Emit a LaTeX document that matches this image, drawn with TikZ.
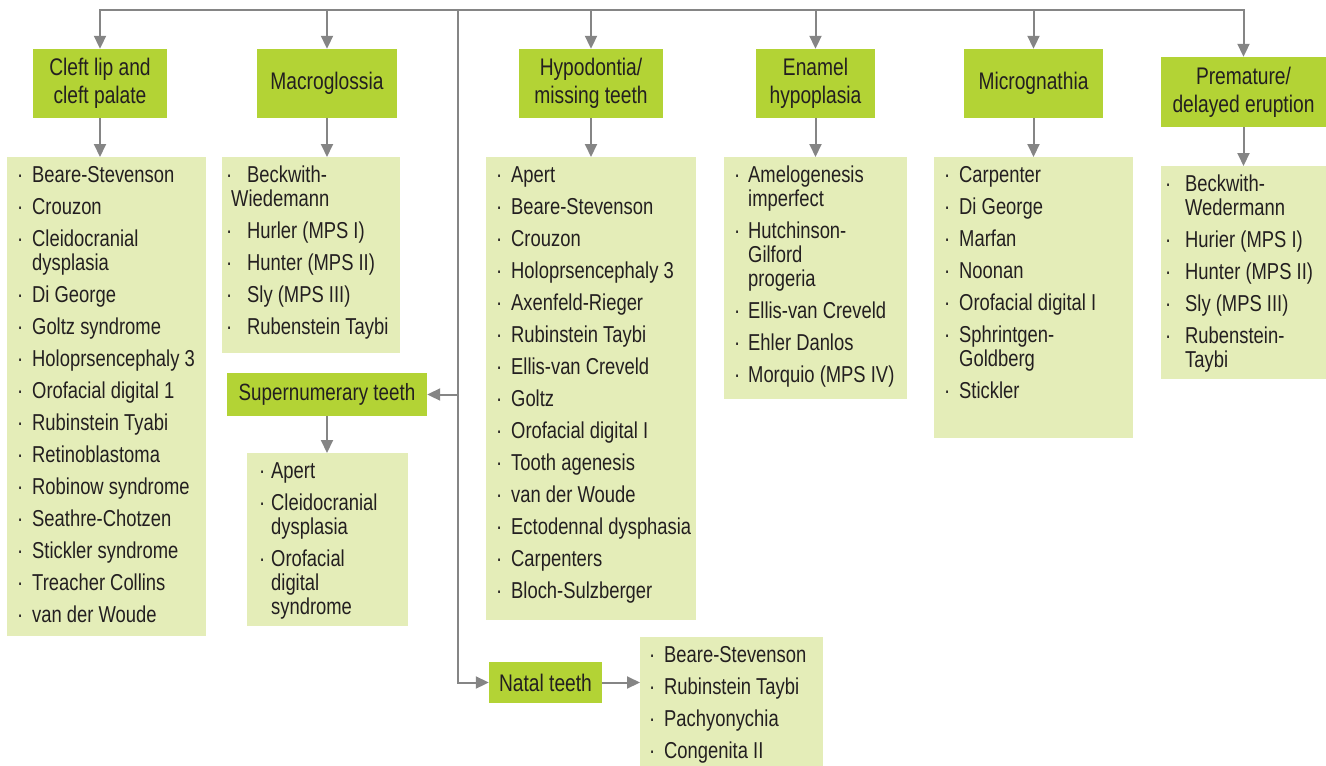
\documentclass[tikz,border=0pt]{standalone}
\usepackage{fontspec}
\setmainfont{Liberation Sans}[FakeStretch=0.8]
\usetikzlibrary{arrows.meta}
\definecolor{hdr}{HTML}{B3D335}
\definecolor{lstc}{HTML}{E4EDB8}
\definecolor{ln}{HTML}{858585}
\definecolor{txt}{HTML}{231F20}
% list builder: #1 width, #2 height, #3 bullet offset, #4 text offset, #5 items
\newcommand\mklist[5]{\parbox[t][#2pt][t]{#1pt}{%
  \fontsize{23}{24}\selectfont\raggedright
  \setlength\parskip{8pt}\setlength\parindent{0pt}%
  \def\bo{#3pt}\def\ti{#4pt}#5}}
\newcommand\li[2][\ti]{\par\noindent\hangindent=#1\hangafter=1
  \makebox[\ti][l]{\hspace{\bo}·}#2\par}
\newcommand\lif[2][\ti]{\li[#1]{\rule{0pt}{25pt}#2}}
\newcommand\nl{\newline}
\tikzset{
  hdrbox/.style={fill=hdr, inner sep=0pt, align=center, text=txt,
    font=\fontsize{24}{28}\selectfont},
  lstbox/.style={fill=lstc, inner sep=0pt, anchor=north west, text=txt},
  conn/.style={draw=ln, line width=2pt},
  arr/.style={conn, -{Triangle[length=13pt,width=12pt]}},
}
\begin{document}
\begin{tikzpicture}[x=1pt,y=-1pt]
\useasboundingbox (0,0) rectangle (1326,766);
% headers
\node[hdrbox, minimum width=134pt, minimum height=69pt] (cleft) at (100,83.5) {Cleft lip and\\cleft palate};
\node[hdrbox, minimum width=140pt, minimum height=69pt] (macro) at (327,83.5) {Macroglossia};
\node[hdrbox, minimum width=144pt, minimum height=69pt] (hypo) at (591,83.5) {Hypodontia/\\missing teeth};
\node[hdrbox, minimum width=119pt, minimum height=69pt] (enam) at (815.5,83.5) {Enamel\\hypoplasia};
\node[hdrbox, minimum width=139pt, minimum height=69pt] (micro) at (1033.5,83.5) {Micrognathia};
\node[hdrbox, minimum width=165pt, minimum height=70pt] (prem) at (1243.5,92) {Premature/\\delayed eruption};
\node[hdrbox, minimum width=200pt, minimum height=43pt, font=\fontsize{23.5}{28}\selectfont] (super) at (327,394.5) {Supernumerary teeth};
\node[hdrbox, minimum width=113pt, minimum height=41pt] (natal) at (545.5,682.5) {Natal teeth};
% lists
\node[lstbox] (cleftl) at (7,157) {\mklist{199}{479}{10}{25}{%
  \lif{Beare-Stevenson}\li{Crouzon}\li{Cleidocranial\nl dysplasia}\li{Di George}
  \li{Goltz syndrome}\li{Holoprsencephaly 3}\li{Orofacial digital 1}
  \li{Rubinstein Tyabi}\li{Retinoblastoma}\li{Robinow syndrome}
  \li{Seathre-Chotzen}\li{Stickler syndrome}\li{Treacher Collins}\li{van der Woude}}};
\node[lstbox] (macrol) at (222,157) {\mklist{178}{196}{4}{25}{%
  \lif[9pt]{Beckwith-\nl Wiedemann}\li{Hurler (MPS I)}\li{Hunter (MPS II)}
  \li{Sly (MPS III)}\li{Rubenstein Taybi}}};
\node[lstbox] (superl) at (247,453) {\mklist{161}{173}{12}{24}{%
  \lif{Apert}\li{Cleidocranial\nl dysplasia}\li{Orofacial\nl digital\nl syndrome}}};
\node[lstbox] (hypol) at (486,157) {\mklist{210}{463}{10}{25}{%
  \lif{Apert}\li{Beare-Stevenson}\li{Crouzon}\li{Holoprsencephaly 3}
  \li{Axenfeld-Rieger}\li{Rubinstein Taybi}\li{Ellis-van Creveld}\li{Goltz}
  \li{Orofacial digital I}\li{Tooth agenesis}\li{van der Woude}
  \li{Ectodennal dysphasia}\li{Carpenters}\li{Bloch-Sulzberger}}};
\node[lstbox] (enaml) at (724,157) {\mklist{183}{242}{10}{24}{%
  \lif{Amelogenesis\nl imperfect}\li{Hutchinson-\nl Gilford\nl progeria}
  \li{Ellis-van Creveld}\li{Ehler Danlos}\li{Morquio (MPS IV)}}};
\node[lstbox] (microl) at (934,157) {\mklist{199}{281}{10}{25}{%
  \lif{Carpenter}\li{Di George}\li{Marfan}\li{Noonan}\li{Orofacial digital I}
  \li{Sphrintgen-\nl Goldberg}\li{Stickler}}};
\node[lstbox] (preml) at (1161,166) {\mklist{165}{213}{4}{24}{%
  \lif{Beckwith-\nl Wedermann}\li{Hurier (MPS I)}\li{Hunter (MPS II)}
  \li{Sly (MPS III)}\li{Rubenstein-\nl Taybi}}};
\node[lstbox] (natall) at (640,637) {\mklist{183}{129}{9}{24}{%
  \lif{Beare-Stevenson}\li{Rubinstein Taybi}\li{Pachyonychia}\li{Congenita II}}};
% connectors
\coordinate (top) at (0,10);
\coordinate (tk) at (458,10);
\draw[conn, {Triangle[length=13pt,width=12pt]}-{Triangle[length=13pt,width=12pt]}]
  (cleft.north) -- (cleft.north |- top) -- (prem.north |- top) -- (prem.north);
\foreach \n in {macro,hypo,enam,micro}
  \draw[arr] (\n.north |- top) -- (\n.north);
\draw[arr] (tk) -- (tk |- natal.west) -- (natal.west);
\draw[arr] (tk |- super.east) -- (super.east);
\draw[arr] (natal.east) -- (natal.east -| natall.west);
\draw[arr] (cleft.south) -- (cleft.south |- cleftl.north);
\draw[arr] (macro.south) -- (macro.south |- macrol.north);
\draw[arr] (super.south) -- (super.south |- superl.north);
\draw[arr] (hypo.south) -- (hypo.south |- hypol.north);
\draw[arr] (enam.south) -- (enam.south |- enaml.north);
\draw[arr] (micro.south) -- (micro.south |- microl.north);
\draw[arr] (prem.south) -- (prem.south |- preml.north);
\end{tikzpicture}
\end{document}
